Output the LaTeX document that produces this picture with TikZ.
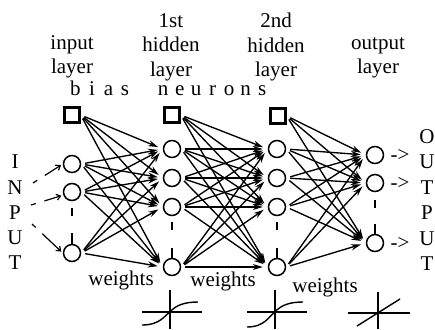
\documentclass[tikz,border=0pt]{standalone}
\usepackage{fontspec}
\setmainfont{Liberation Serif}
\usetikzlibrary{arrows.meta}
\newcommand\lspc[1]{\makebox[16.5pt]{#1}}
\begin{document}
\begin{tikzpicture}[x=1pt,y=-1pt,
  neuron/.style={circle, draw, line width=1.5pt, minimum size=17pt, inner sep=0pt},
  biasbox/.style={rectangle, draw, line width=2.4pt, minimum size=15pt, inner sep=0pt},
  wire/.style={line width=1.35pt, -{Stealth[length=10pt,width=6pt]}, shorten <=4pt, shorten >=5pt},
  inarrow/.style={line width=1.2pt, -{Straight Barb[length=4pt,width=6pt]}, dash pattern=on 5pt off 9pt on 40pt, shorten >=2pt},
  stem/.style={line width=1.5pt},
  dots/.style={line width=2.2pt},
  axis/.style={line width=1.4pt},
  lbl/.style={font=\fontsize{21}{24.5}\selectfont, align=center, inner sep=0pt},
  txt/.style={font=\fontsize{21}{24.5}\selectfont, inner sep=0pt, anchor=base}]
\useasboundingbox (0,0) rectangle (435,329);

% headers
\node[lbl, anchor=north] (hin) at (72,35) {input\\layer};
\node[lbl, anchor=north] (hh1) at (171,13) {1st\\hidden\\layer};
\node[lbl, anchor=north] (hh2) at (276,13) {2nd\\hidden\\layer};
\node[lbl, anchor=north] (hout) at (378,37) {output\\layer};
\node[txt, anchor=base west] (bias) at (67,95) {\lspc{b}\lspc{i}\lspc{a}\lspc{s}\hspace{21.75pt}\lspc{n}\lspc{e}\lspc{u}\lspc{r}\lspc{o}\lspc{n}\lspc{s}};

% INPUT / OUTPUT letters
\node[txt] (tI) at (15,168) {I};
\node[txt] (tN) at (15,194) {N};
\node[txt] (tP) at (15,219) {P};
\node[txt] (tU) at (15,244) {U};
\node[txt] (tT) at (15,269) {T};
\node[txt] (uO) at (427,143) {O};
\node[txt] (uU) at (427,168.5) {U};
\node[txt] (uT) at (427,194) {T};
\node[txt] (uP) at (427,219.5) {P};
\node[txt] (uU2) at (427,245) {U};
\node[txt] (uT2) at (427,270) {T};

% bias neurons
\node[biasbox] (B0) at (72,115) {};
\node[biasbox] (B1) at (172,115) {};
\node[biasbox] (B2) at (278,116) {};

% input layer
\node[neuron] (I1) at (72,164) {};
\node[neuron] (I2) at (72,192) {};
\node[neuron] (I3) at (72,253) {};
% hidden 1
\node[neuron] (H1) at (172,149) {};
\node[neuron] (H2) at (172,178) {};
\node[neuron] (H3) at (172,207) {};
\node[neuron] (H4) at (172,267) {};
% hidden 2
\node[neuron] (G1) at (277,149) {};
\node[neuron] (G2) at (277,178) {};
\node[neuron] (G3) at (277,207) {};
\node[neuron] (G4) at (277,267) {};
% output
\node[neuron] (O1) at (375,155) {};
\node[neuron] (O2) at (375,183) {};
\node[neuron] (O3) at (375,243) {};

% stems on last neurons
\draw[stem] (I3.north) -- ++(0,-11);
\draw[stem] (H4.north) -- ++(0,-10);
\draw[stem] (G4.north) -- ++(0,-10);
\draw[stem] (O3.north) -- ++(0,-10);
% ellipsis bars
\draw[dots] (72,208) -- (72,216);
\draw[dots] (172,222) -- (172,230);
\draw[dots] (277,222) -- (277,230);
\draw[dots] (375,200) -- (375,208);

% connections
\foreach \s in {B0,I1,I2,I3}
  \foreach \t in {H1,H2,H3,H4}
    \draw[wire] (\s.east) -- (\t.west);
\foreach \s in {B1,H1,H2,H3,H4}
  \foreach \t in {G1,G2,G3,G4}
    \draw[wire] (\s.east) -- (\t.west);
\foreach \s in {B2,G1,G2,G3,G4}
  \foreach \t in {O1,O2,O3}
    \draw[wire] (\s.east) -- (\t.west);

% input arrows
\coordinate (a1) at (33,183);
\coordinate (a2) at (31,205);
\coordinate (a3) at (32,224);
\draw[inarrow] (a1) -- (I1.west);
\draw[inarrow] (a2) -- (I2.200);
\draw[inarrow] (a3) -- (I3.west);

% output arrows
\node[txt] (r1) at (400,161) {->};
\node[txt] (r2) at (400,189) {->};
\node[txt] (r3) at (400,249) {->};

% weights labels
\node[txt] (w1) at (121,285) {weights};
\node[txt] (w2) at (223,286) {weights};
\node[txt] (w3) at (325,292) {weights};

% activation functions
\draw[axis] (170,290) -- (170,329);
\draw[axis] (142,312) -- (202,312);
\draw[axis] (142,325) .. controls (160,325) and (164,316) .. (170,312) .. controls (176,305) and (185,302) .. (198,302);
\draw[axis] (275,290) -- (275,329);
\draw[axis] (247,312) -- (307,312);
\draw[axis] (247,327) .. controls (265,327) and (269,316) .. (275,312) .. controls (281,305) and (290,302) .. (303,302);
\draw[axis] (378,292) -- (378,329);
\draw[axis] (348,313) -- (410,313);
\draw[axis] (357,326) -- (400,299);
\end{tikzpicture}
\end{document}
